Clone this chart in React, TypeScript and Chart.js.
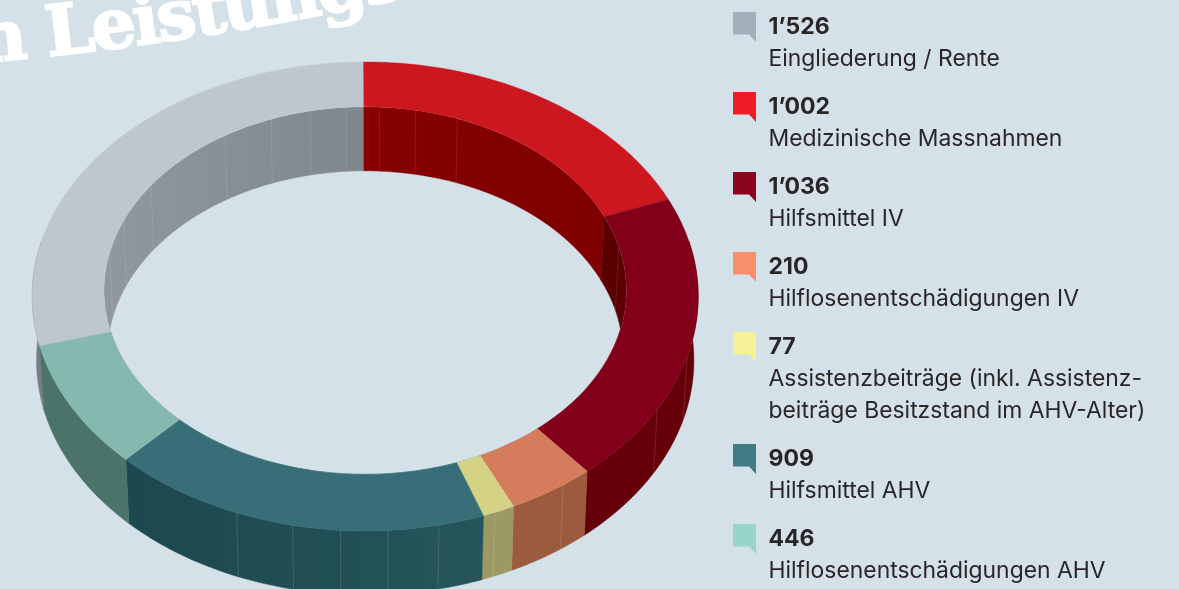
import React, { useEffect, useRef } from "react";
import { Chart, registerables } from "chart.js";

Chart.register(...registerables);

const categories = [
  "Eingliederung / Rente",
  "Medizinische Massnahmen",
  "Hilfsmittel IV",
  "Hilflosenentschädigungen IV",
  "Assistenzbeiträge (inkl. Assistenz-\nbeiträge Besitzstand im AHV-Alter)",
  "Hilfsmittel AHV",
  "Hilflosenentschädigungen AHV",
];
const values = [1526, 1002, 1036, 210, 77, 909, 446];
const valueLabels = ["1’526", "1’002", "1’036", "210", "77", "909", "446"];
const legendColors = ["#a3b0b9", "#ee1c25", "#8c0420", "#f78f6a", "#f4f197", "#417c85", "#98d4c8"];
const topColors = ["#bec7ce", "#cc171e", "#82001a", "#d47c5b", "#d4d385", "#386e77", "#85b9b0"];
const outerWallLeft = ["#777d84", "#800000", "#660008", "#9c5a3e", "#9c9a62", "#1c484f", "#4c7369"];
const outerWallRight = ["#777d84", "#800000", "#660008", "#9c5a3e", "#9c9a62", "#26555c", "#4c7369"];
const innerWallLeft = ["#90979d", "#860000", "#5a0000", "#70655e", "#70655e", "#2a5860", "#4c7369"];
const innerWallRight = ["#7f868d", "#7f0000", "#5a0000", "#70655e", "#70655e", "#2a5860", "#4c7369"];
const outerSeams = [108.3, 121.9, 145.7, 158.5, 168, 176.3, 184, 191.8, 201.3];
const innerSeams = [3.3, 11.7, 21.7, 79, 355.6, 347.2, 337.8, 326, 302.5, 289.5, 279];
const legendTops = [12, 92, 172, 252, 332, 444, 524];

const BG = "#d4e1e9";
const DEG = Math.PI / 180;
const cx = 365.2, cy = 281.2, a = 332.3, b = 233.5, q = 0.065, depth = 64, shrink = 0.987;

function project(r: number, phi: number, low: boolean): [number, number] {
  const u = r * Math.cos(phi), v = r * Math.sin(phi), w = 1 - q * v;
  let x = cx + (a * u) / w, y = cy + (b * v) / w;
  if (low) { x = cx + (x - cx) * shrink; y += depth; }
  return [x, y];
}

function band(ctx: CanvasRenderingContext2D, r0: number, l0: boolean, r1: number, l1: boolean, s: number, e: number) {
  const n = Math.max(2, Math.ceil(Math.abs(e - s) / DEG));
  ctx.beginPath();
  for (let i = 0; i <= n; i++) {
    const [x, y] = project(r0, s + ((e - s) * i) / n, l0);
    i ? ctx.lineTo(x, y) : ctx.moveTo(x, y);
  }
  for (let i = n; i >= 0; i--) {
    const [x, y] = project(r1, s + ((e - s) * i) / n, l1);
    ctx.lineTo(x, y);
  }
  ctx.closePath();
}

function paint(ctx: CanvasRenderingContext2D, left: string, right: string, s: number, e: number, r: number) {
  const xs = [project(r, s, false)[0], project(r, e, false)[0]];
  const g = ctx.createLinearGradient(Math.min(...xs), 0, Math.max(...xs) + 0.01, 0);
  g.addColorStop(0, left);
  g.addColorStop(1, right);
  ctx.fillStyle = g;
  ctx.strokeStyle = g;
  ctx.lineWidth = 0.5;
  ctx.fill();
  ctx.stroke();
}

const ring3d = {
  id: "ring3d",
  beforeDatasetsDraw(chart: any) {
    const ctx: CanvasRenderingContext2D = chart.ctx;
    const arcs = chart.getDatasetMeta(0).data;
    const rho = arcs[0].innerRadius / arcs[0].outerRadius;

    ctx.save();
    // outer walls: the front of the ring, with every slice's angles brought to one turn
    arcs.forEach((el: any, i: number) => {
      const turn = el.startAngle < -100 * DEG ? 2 * Math.PI : 0;
      const s = Math.max(el.startAngle + turn, -10 * DEG);
      const e = Math.min(el.endAngle + turn, 190 * DEG);
      if (e > s) {
        band(ctx, 1, false, 1, true, s, e);
        paint(ctx, outerWallLeft[i], outerWallRight[i], s, e, 1);
      }
    });
    ctx.strokeStyle = "rgba(255,255,255,0.13)";
    ctx.lineWidth = 1;
    outerSeams.forEach((d) => {
      const phi = (d - 90) * DEG;
      const p0 = project(1, phi, false), p1 = project(1, phi, true);
      ctx.beginPath(); ctx.moveTo(p0[0], p0[1]); ctx.lineTo(p1[0], p1[1]); ctx.stroke();
    });

    // inner walls, only seen through the hole
    ctx.save();
    ctx.beginPath();
    for (let i = 0; i <= 360; i++) {
      const [x, y] = project(rho, i * DEG, false);
      i ? ctx.lineTo(x, y) : ctx.moveTo(x, y);
    }
    ctx.closePath();
    ctx.clip();
    arcs.forEach((el: any, i: number) => {
      band(ctx, rho, false, rho, true, el.startAngle, el.endAngle);
      paint(ctx, innerWallLeft[i], innerWallRight[i], el.startAngle, el.endAngle, rho);
    });
    ctx.strokeStyle = "rgba(255,255,255,0.1)";
    ctx.lineWidth = 1;
    innerSeams.forEach((d) => {
      const phi = (d - 90) * DEG;
      const p0 = project(rho, phi, false), p1 = project(rho, phi, true);
      ctx.beginPath(); ctx.moveTo(p0[0], p0[1]); ctx.lineTo(p1[0], p1[1]); ctx.stroke();
    });
    ctx.restore();

    // top faces
    arcs.forEach((el: any) => {
      band(ctx, 1, false, rho, false, el.startAngle, el.endAngle);
      ctx.fillStyle = el.options.backgroundColor;
      ctx.strokeStyle = el.options.backgroundColor;
      ctx.lineWidth = 0.4;
      ctx.fill();
      ctx.stroke();
    });
    ctx.restore();
    return false;
  },
};

export default function App() {
  const ref = useRef<HTMLCanvasElement>(null);
  useEffect(() => {
    const total = values.reduce((p, c) => p + c, 0);
    const chart = new Chart(ref.current!, {
      type: "doughnut",
      data: { labels: categories, datasets: [{ data: values, backgroundColor: topColors, borderWidth: 0 }] },
      options: {
        responsive: false,
        animation: false,
        events: [],
        cutout: "78.5%",
        rotation: (-values[0] / total) * 360 - 0.3,
        plugins: { legend: { display: false }, tooltip: { enabled: false } },
      },
      plugins: [ring3d],
    } as any);
    return () => chart.destroy();
  }, []);

  const font = "Inter, sans-serif";
  return (
    <div style={{ position: "fixed", inset: 0, width: 1179, height: 589, background: BG, overflow: "hidden", fontFamily: font, color: "#2a2628" }}>
      <svg width={1179} height={589} style={{ position: "absolute", left: 0, top: 0 }}>
        <defs>
          <path id="titlePath" d="M -22 63 Q 200 44 440 -10" fill="none" />
        </defs>
        <text fill="#fff" stroke="#fff" strokeWidth={2} style={{ fontFamily: "'DejaVu Serif'", fontWeight: 700, fontSize: 70, letterSpacing: "-2.5px" }}>
          <textPath href="#titlePath">h Leistungsart</textPath>
        </text>
      </svg>
      <canvas ref={ref} width={1179} height={589} style={{ position: "absolute", left: 0, top: 0, width: 1179, height: 589 }} />
      {categories.map((c, i) => (
        <div key={c} style={{ position: "absolute", left: 733, top: legendTops[i], width: 446 }}>
          <div style={{ position: "absolute", left: 0, top: 0, width: 23, height: 30, background: legendColors[i], clipPath: "polygon(0 0,100% 0,100% 100%,70% 75%,0 75%)" }} />
          <div style={{ position: "absolute", left: 35.5, top: 0, fontWeight: 700, fontSize: 23, lineHeight: "28px", whiteSpace: "pre" }}>{valueLabels[i]}</div>
          <div style={{ position: "absolute", left: 35.5, top: 30, fontSize: 22.9, lineHeight: "32px", whiteSpace: "pre" }}>{c}</div>
        </div>
      ))}
    </div>
  );
}
